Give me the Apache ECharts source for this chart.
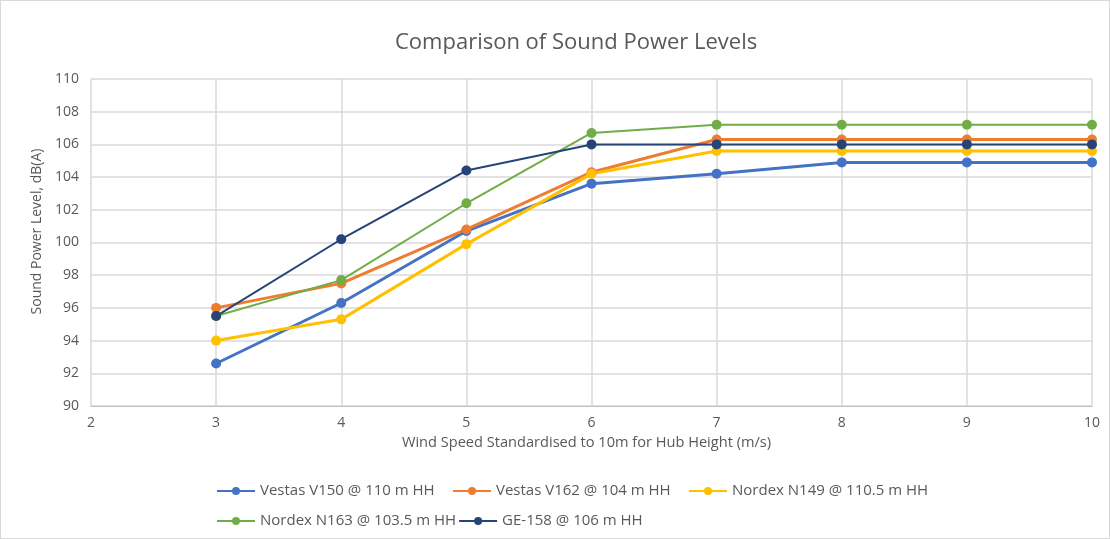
<!DOCTYPE html>
<html><head><meta charset="utf-8">
<script src="https://cdn.jsdelivr.net/npm/echarts@6/dist/echarts.min.js"></script>
<style>html,body{margin:0;padding:0;background:#fff}#c{width:1110px;height:539px;box-sizing:border-box;border:1px solid #d9d9d9}</style>
</head><body><div id="c"></div>
<script>
var windSpeeds = [3, 4, 5, 6, 7, 8, 9, 10];
var seriesNames = ['Vestas V150 @ 110 m HH', 'Vestas V162 @ 104 m HH', 'Nordex N149 @ 110.5 m HH', 'Nordex N163 @ 103.5 m HH', 'GE-158 @ 106 m HH'];
var vestasV150 = [92.6, 96.3, 100.7, 103.6, 104.2, 104.9, 104.9, 104.9];
var vestasV162 = [96.0, 97.5, 100.8, 104.3, 106.3, 106.3, 106.3, 106.3];
var nordexN149 = [94.0, 95.3, 99.9, 104.2, 105.6, 105.6, 105.6, 105.6];
var nordexN163 = [95.5, 97.7, 102.4, 106.7, 107.2, 107.2, 107.2, 107.2];
var ge158 = [95.5, 100.2, 104.4, 106.0, 106.0, 106.0, 106.0, 106.0];
var allValues = [vestasV150, vestasV162, nordexN149, nordexN163, ge158];
var colors = ['#4472C4', '#ED7D31', '#FFC000', '#70AD47', '#264478'];
var widths = [3, 3, 3, 2, 2];

var chart = echarts.init(document.getElementById('c'));
var font = '"Open Sans", "Noto Sans", sans-serif';
chart.setOption({
  animation: false,
  textStyle: {fontFamily: font},
  title: {text: 'Comparison of Sound Power Levels', left: 389, top: 26,
    textStyle: {fontSize: 22, fontWeight: 'normal', color: '#595959', fontFamily: font}},
  grid: {left: 90, right: 17, top: 78, bottom: 132},
  legend: {left: 215, top: 476, padding: 0, width: 760, itemWidth: 38, itemHeight: 10, itemGap: 2,
    textStyle: {fontSize: 15, color: '#595959', width: 190, lineHeight: 28},
    data: seriesNames},
  xAxis: {type: 'value', min: 2, max: 10, interval: 1,
    name: 'Wind Speed Standardised to 10m for Hub Height (m/s)', nameLocation: 'middle', nameGap: 29,
    nameTextStyle: {fontSize: 14.6, color: '#595959', padding: [0, 10, 0, 0]},
    axisLine: {lineStyle: {color: '#bfbfbf'}}, axisTick: {show: false},
    axisLabel: {fontSize: 14, color: '#595959', margin: 10},
    splitLine: {show: true, lineStyle: {color: '#d9d9d9', width: 1.5}}},
  yAxis: {type: 'value', min: 90, max: 110, interval: 2,
    name: 'Sound Power Level, dB(A)', nameLocation: 'middle', nameGap: 44,
    nameTextStyle: {fontSize: 14, color: '#595959', padding: [0, 0, 0, 22]},
    axisLine: {show: false}, axisTick: {show: false},
    axisLabel: {fontSize: 14, color: '#595959', margin: 12},
    splitLine: {lineStyle: {color: '#d9d9d9', width: 1.5}}},
  series: allValues.map(function (vals, i) {
    return {name: seriesNames[i], type: 'line', symbol: 'circle', symbolSize: 10,
      data: windSpeeds.map(function (x, j) { return [x, vals[j]]; }),
      itemStyle: {color: colors[i]}, lineStyle: {color: colors[i], width: widths[i]}};
  })
});
</script></body></html>
